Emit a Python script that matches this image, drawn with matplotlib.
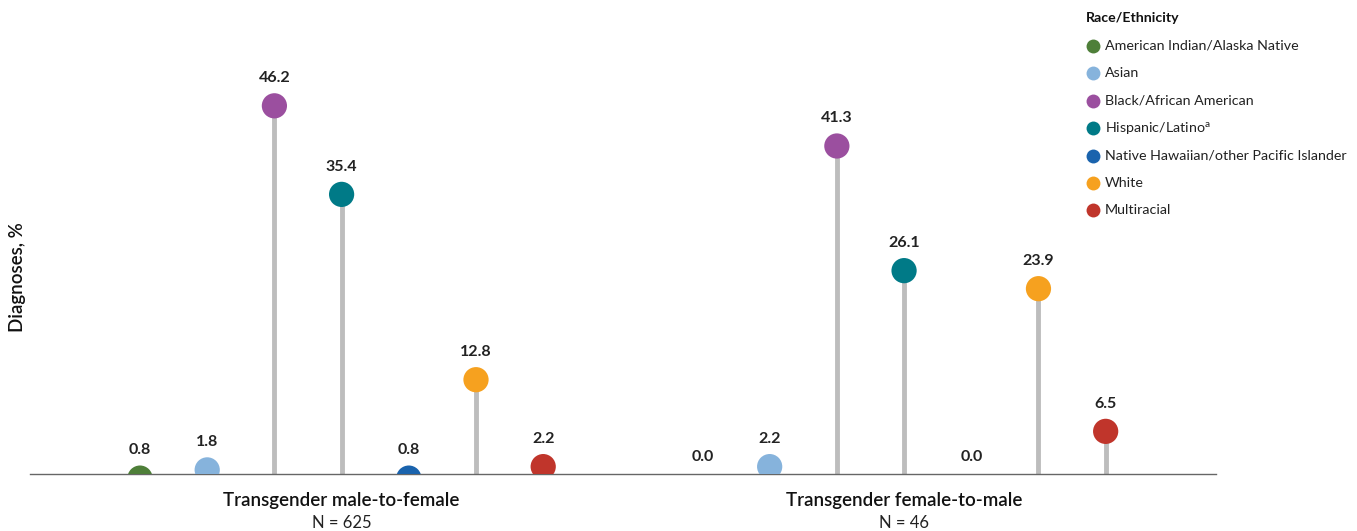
import matplotlib
matplotlib.use("Agg")
import matplotlib.pyplot as plt

plt.rcParams['font.family'] = ['Lato', 'DejaVu Sans']

groups = ["Transgender male-to-female", "Transgender female-to-male"]
group_n = ["N = 625", "N = 46"]
categories = ["American Indian/Alaska Native", "Asian", "Black/African American",
              "Hispanic/Latino$^{\\mathregular{a}}$", "Native Hawaiian/other Pacific Islander",
              "White", "Multiracial"]
mtf_values = [0.8, 1.8, 46.2, 35.4, 0.8, 12.8, 2.2]
ftm_values = [0.0, 2.2, 41.3, 26.1, 0.0, 23.9, 6.5]
colors = ["#4e7f39", "#86b3dc", "#9b4f9f", "#007a87", "#1a63ad", "#f6a11f", "#c0352b"]

W, H = 1357, 531
fig = plt.figure(figsize=(W / 100, H / 100), dpi=100)
ax_left, ax_right, ax_top, ax_bottom = 30, 1216, 15, 474
ax = fig.add_axes([ax_left / W, 1 - ax_bottom / H, (ax_right - ax_left) / W, (ax_bottom - ax_top) / H])

group_offset = 8.37
ymin = 1.3
ymax = ymin + (ax_bottom - ax_top) / 8.2

for g, vals in enumerate([mtf_values, ftm_values]):
    for i, v in enumerate(vals):
        x = i + g * group_offset
        if v > 0:
            ax.plot([x, x], [ymin - 1, v], color="#bdbdbd", lw=3.5, solid_capstyle="butt", zorder=1)
            ax.scatter([x], [v], s=330, color=colors[i], zorder=3, edgecolors="none")
        ax.annotate(f"{v:.1f}", (x, v), xytext=(0, 20), textcoords="offset points",
                    ha="center", va="center", fontsize=11.5, fontweight="bold", color="#222222",
                    annotation_clip=False)
    cx = 3 + g * group_offset
    ax.annotate(groups[g], (cx, ymin), xytext=(0, -19), textcoords="offset points",
                ha="center", va="center", fontsize=13.5, fontweight="semibold", color="#111111",
                annotation_clip=False)
    ax.annotate(group_n[g], (cx, ymin), xytext=(0, -35.5), textcoords="offset points",
                ha="center", va="center", fontsize=12, color="#222222",
                annotation_clip=False)

ax.set_xlim((ax_left - 140) / 67.2, (ax_right - 140) / 67.2)
ax.set_ylim(ymin, ymax)
for s in ["top", "right", "left"]:
    ax.spines[s].set_visible(False)
ax.spines["bottom"].set_color("#666666")
ax.spines["bottom"].set_linewidth(1.0)
ax.set_xticks([])
ax.set_yticks([])

fig.text(18 / W, 1 - 277 / H, "Diagnoses, %", rotation=90, ha="center", va="center",
         fontsize=13.5, fontweight="semibold", color="#111111")

# legend
fig.text(1086 / W, 1 - 18 / H, "Race/Ethnicity", ha="left", va="center",
         fontsize=10.2, fontweight="bold", color="#111111")
for i, (c, lab) in enumerate(zip(colors, categories)):
    y = 46 + i * 27.4
    fig.add_artist(plt.Line2D([1093 / W], [1 - y / H], marker="o", markersize=10,
                              color=c, markeredgewidth=0, transform=fig.transFigure))
    fig.text(1105 / W, 1 - y / H, lab, ha="left", va="center", fontsize=10.3, color="#222222")

fig.savefig("out.png", dpi=100)
